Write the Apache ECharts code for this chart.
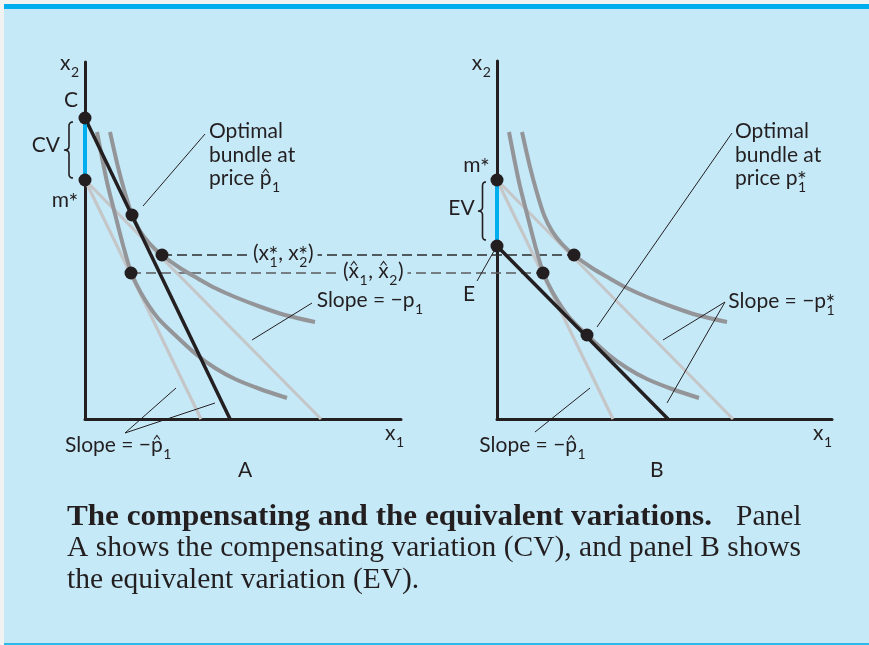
<!DOCTYPE html>
<html><head><meta charset="utf-8">
<script src="https://cdn.jsdelivr.net/npm/echarts@6/dist/echarts.min.js"></script>
<style>
html,body{margin:0;padding:0;background:#f1f2f2;width:869px;height:645px;overflow:hidden}
#bg{position:absolute;left:4px;top:4px;width:865px;height:634px;background:#c6e9f8;border-top:5px solid #00aeef;border-bottom:2px solid #2fb8ea}
#chart{position:absolute;left:0;top:0;width:869px;height:645px}
</style></head><body><div id="bg"></div><div id="chart"></div>
<script>
// ---- data (x = units right of origin, y = units above the x axis) ----
const upperCurve = [[25,287],[33,252],[40,226],[47,204],[55,188],[65,175],[77,164],[95,151],[112,141],[130,131],[150,122],[176,112],[200,104],[230,97]];
const lowerCurve = [[12,287],[22,237],[30,205],[38,174],[46,147],[56,126],[72,102],[90,84],[112,64],[130,51],[150,40],[175,30],[202,21]];
const budgetSteep = [[0,239],[116,0]];   // slope -p^1 through m*
const budgetFlat  = [[0,239],[236,0]];   // slope -p1 through m*
const budgetA     = [[0,301],[145,0]];   // slope -p^1 through C
const budgetB     = [[0,173],[171,0]];   // slope -p1 through E
const cvSegment   = [[0,301],[0,239]];
const evSegment   = [[0,239],[0,173]];
const pointC = [0,301], pointM = [0,239], pointE = [0,173];
const xStar = [77,164], xHat = [46,146];
const optA = [47,204], optB = [90,84];
const axisMaxA = [316,357], axisMaxB = [335,358];

const INK = '#231f20';
const chart = echarts.init(document.getElementById('chart'), null, {renderer:'canvas'});

function panel(g, black, seg, dots){
  const b = {xAxisIndex:g, yAxisIndex:g, clip:false, silent:true, animation:false};
  return [
    Object.assign({type:'line', data:budgetSteep, symbol:'none', lineStyle:{color:'#c5c6c8', width:3.2}, z:2}, b),
    Object.assign({type:'line', data:budgetFlat, symbol:'none', lineStyle:{color:'#c5c6c8', width:3.2}, z:2}, b),
    Object.assign({type:'line', data:upperCurve, symbol:'none', smooth:0.3, lineStyle:{color:'#939598', width:4}, z:3}, b),
    Object.assign({type:'line', data:lowerCurve, symbol:'none', smooth:0.3, lineStyle:{color:'#939598', width:4}, z:3}, b),
    Object.assign({type:'line', data:black, symbol:'none', lineStyle:{color:INK, width:3.5}, z:4}, b),
    Object.assign({type:'line', data:seg, symbol:'none', lineStyle:{color:'#00aeef', width:4}, z:5}, b),
    Object.assign({type:'scatter', data:dots, symbolSize:13, itemStyle:{color:INK, opacity:1}, z:6}, b)
  ];
}
function ax(g, max){
  return {gridIndex:g, type:'value', min:0, max:max, axisLine:{show:true, onZero:false, lineStyle:{color:INK, width:3}},
          axisTick:{show:false}, axisLabel:{show:false}, splitLine:{show:false}};
}
chart.setOption({
  animation:false,
  grid:[{left:85, top:62, width:316, height:357},{left:497, top:61, width:335, height:358}],
  xAxis:[ax(0,axisMaxA[0]), ax(1,axisMaxB[0])],
  yAxis:[ax(0,axisMaxA[1]), ax(1,axisMaxB[1])],
  series: panel(0, budgetA, cvSegment, [pointC, pointM, optA, xStar, xHat])
    .concat(panel(1, budgetB, evSegment, [pointM, pointE, xStar, xHat, optB]))
});

// ---- annotations ----
const FONT = 'Lato';
const mctx = document.createElement('canvas').getContext('2d');
function tw(t, size, fam, weight){ mctx.font = (weight||'normal')+' '+size+'px '+(fam||FONT); return mctx.measureText(t).width; }
const G = [];
function txt(t, x, base, sz){
  return {type:'text', x:x, y:base-0.32*sz, z:20, style:{text:t, font:sz+'px '+FONT, fill:INK, align:'left', verticalAlign:'middle'}};
}
function mathLabel(x, base, tokens, opts){
  opts = opts||{};
  const size = opts.size||21, ss = 14, st = 23;
  const els = []; let cx = x;
  tokens.forEach(tk=>{
    if (typeof tk === 'string'){ els.push(txt(tk,cx,base,size)); cx += tw(tk,size); }
    else if (tk.hat){
      const w = tw(tk.hat,size); els.push(txt(tk.hat,cx,base,size));
      const hx = cx + w/2 + (tk.dx||0), hy = base - 0.5*size;
      els.push({type:'polyline', z:20, shape:{points:[[hx-3,hy-1.5],[hx,hy-5.5],[hx+3,hy-1.5]]}, style:{stroke:INK, lineWidth:1.1, fill:null}});
      cx += w;
    } else {
      let adv = 0;
      if (tk.sub){ els.push(txt(tk.sub, cx+0.5, base+7, ss)); adv = Math.max(adv, tw(tk.sub,ss)+1); }
      if (tk.sup){ els.push(txt(tk.sup, cx-0.5, base+3, st)); adv = Math.max(adv, tw(tk.sup,st)-1); }
      cx += adv;
    }
  });
  if (opts.bg){
    G.push({type:'rect', z:15, shape:{x:x-4, y:base-17, width:cx-x+8, height:26}, style:{fill:'#c6e9f8'}});
  }
  els.forEach(e=>G.push(e));
}
function leader(pts){ G.push({type:'polyline', z:19, shape:{points:pts}, style:{stroke:INK, lineWidth:1, fill:null}}); }

// panel A
mathLabel(60, 70, ['x',{sub:'2'}]);
mathLabel(64, 106.7, ['C']);
mathLabel(31.7, 151.7, ['CV']);
mathLabel(51.7, 206.7, ['m',{sup:'*'}]);
mathLabel(209, 138.3, ['Optimal']);
mathLabel(209, 161.7, ['bundle at']);
mathLabel(209, 185, ['price ',{hat:'p'},{sub:'1'}]);
mathLabel(253, 259.5, ['(x',{sub:'1',sup:'*'},', x',{sub:'2',sup:'*'},')'], {bg:true});
mathLabel(343, 277.5, ['(',{hat:'x'},{sub:'1'},', ',{hat:'x'},{sub:'2'},')'], {bg:true});
mathLabel(316.7, 306.7, ['Slope = \u2212p',{sub:'1'}]);
mathLabel(65, 451.5, ['Slope = \u2212',{hat:'p'},{sub:'1'}]);
mathLabel(238, 477, ['A']);
mathLabel(385, 440, ['x',{sub:'1'}]);
leader([[143,206],[205,134]]);
leader([[252,340],[312,303]]);
leader([[176,388],[125,433],[215,403]]);
// panel B
mathLabel(471.7, 70, ['x',{sub:'2'}]);
mathLabel(463.3, 171.7, ['m',{sup:'*'}]);
mathLabel(448.3, 215, ['EV']);
mathLabel(463, 300.7, ['E']);
mathLabel(735, 138.3, ['Optimal']);
mathLabel(735, 161.7, ['bundle at']);
mathLabel(735, 185, ['price p',{sub:'1',sup:'*'}]);
mathLabel(728.3, 308.3, ['Slope = \u2212p',{sub:'1',sup:'*'}]);
mathLabel(479.3, 451.7, ['Slope = \u2212',{hat:'p'},{sub:'1'}]);
mathLabel(650, 477, ['B']);
mathLabel(813, 440, ['x',{sub:'1'}]);
leader([[597,327],[732,133]]);
leader([[477,281],[494,251]]);
leader([[663,340],[725,302],[667,403]]);
leader([[535,432],[590,388]]);

// braces (sampled quadratic curves)
function quad(p0, c, p1, n){ const out=[]; for(let i=0;i<=n;i++){const t=i/n; out.push([(1-t)*(1-t)*p0[0]+2*(1-t)*t*c[0]+t*t*p1[0], (1-t)*(1-t)*p0[1]+2*(1-t)*t*c[1]+t*t*p1[1]]);} return out; }
function brace(xTip, xSpine, xNub, y0, y1){
  const ym = (y0+y1)/2, r = 4;
  const pts = [].concat(
    quad([xTip,y0],[xSpine,y0],[xSpine,y0+r],6),
    quad([xSpine,ym-r],[xSpine,ym],[xNub,ym],6),
    quad([xNub,ym],[xSpine,ym],[xSpine,ym+r],6),
    quad([xSpine,y1-r],[xSpine,y1],[xTip,y1],6));
  G.push({type:'polyline', z:19, shape:{points:pts}, style:{stroke:INK, lineWidth:1.6, fill:null}});
}
brace(73, 69, 64, 122, 178);
brace(486, 482.5, 478, 182, 240);

// dashed connectors between the two panels
function dashed(p, color){
  const a = chart.convertToPixel({gridIndex:0}, p), b = chart.convertToPixel({gridIndex:1}, p);
  G.push({type:'line', z:1, shape:{x1:a[0], y1:a[1], x2:b[0], y2:b[1]}, style:{stroke:color, lineWidth:1.3, lineDash:[10,5]}});
}
dashed(xStar, '#2b2b2b');
dashed(xHat, '#5b5b5b');

// caption
const CAPF = '"Liberation Serif"';
const line1b = 'The compensating and the equivalent variations.';
const line2 = 'A shows the compensating variation (CV), and panel B shows';
const capSize = Math.round(20 * 733 / tw(line2, 20, CAPF) * 10) / 10;
const boldScale = 645 / tw(line1b, capSize, CAPF, 'bold');
G.push({type:'text', x:67, y:517, z:20, scaleX:boldScale, style:{text:line1b, font:'bold '+capSize+'px '+CAPF, fill:INK, verticalAlign:'middle', align:'left'}});
G.push({type:'text', x:736, y:517, z:20, style:{text:'Panel', font:capSize+'px '+CAPF, fill:INK, verticalAlign:'middle', align:'left'}});
G.push({type:'text', x:67, y:548, z:20, style:{text:line2, font:capSize+'px '+CAPF, fill:INK, verticalAlign:'middle', align:'left'}});
G.push({type:'text', x:67, y:580, z:20, style:{text:'the equivalent variation (EV).', font:capSize+'px '+CAPF, fill:INK, verticalAlign:'middle', align:'left'}});

chart.setOption({graphic:{elements:G}});
</script></body></html>
